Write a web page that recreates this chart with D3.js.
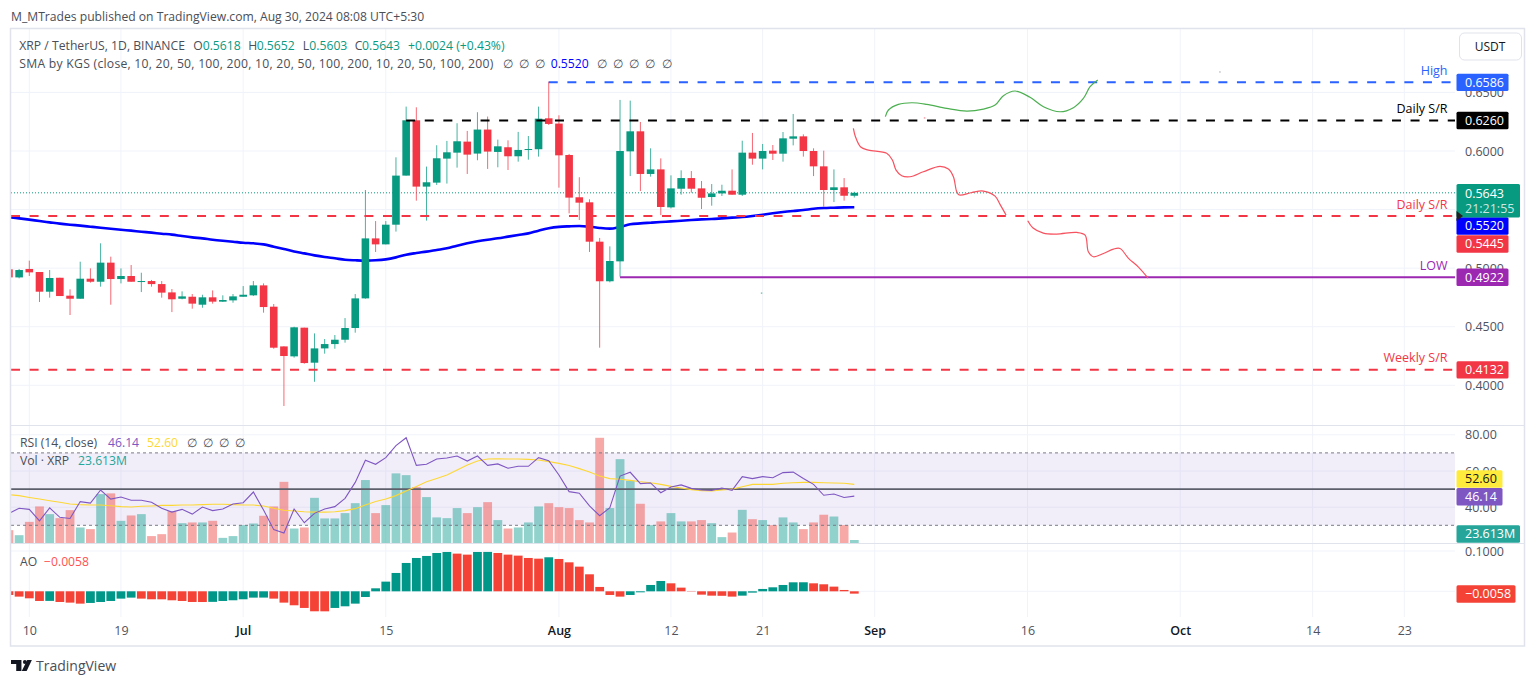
<!DOCTYPE html>
<html>
<head>
<meta charset="utf-8">
<title>XRP / TetherUS</title>
<script src="https://cdn.jsdelivr.net/npm/d3@7/dist/d3.min.js"></script>
<style>
  html, body { margin: 0; padding: 0; background: #fff; overflow: hidden; }
  svg { display: block; }
  text { font-family: 'Open Sans', sans-serif; }
  .axis path, .axis line { display: none; }
  .axis text { font-family: 'Open Sans', sans-serif; font-size: 12.5px; fill: #50535e; }
</style>
</head>
<body>
<div id="chart"></div>
<script>
// daily bars start on 8 Jun 2024, last one is 30 Aug 2024
let opens = [
  .4990, .4921, .4993, .4967, .4799, .4918, .4765, .4739, .4910, .4884, .5047, .4907, .4933, .4882, .4890, .4864, .4793, .4739, .4756, .4688, .4751, .4714, .4725,
  .4756, .4768, .4853, .4671, .4332, .4247, .4492, .4193, .4315, .4352, .4389, .4489, .4742, .5254, .5203, .5371, .5790, .6262, .5696, .5730, .5935, .5986, .6080, .5978, .6183, .5992, .6032, .5955, .6012, .6015, .6279,
  .6234, .5966, .5605, .5562, .5226, .4888, .5058, .5997, .6168, .5804, .5843, .5519, .5678, .5769, .5681, .5607, .5638, .5661, .5627, .5986, .5935, .6003, .5977, .6105, .6125, .6000, .5869, .5667, .5690, .5618
]
let highs = [
  .4990, .4993, .5064, .4967, .4984, .4918, .4819, .5055, .4998, .5212, .5098, .4998, .5027, .4961, .4899, .4890, .4822, .4802, .4779, .4773, .4810, .4768, .4779,
  .4847, .4890, .4870, .4694, .4332, .4500, .4492, .4443, .4395, .4429, .4574, .4779, .5667, .5402, .5402, .5946, .6379, .6373, .5867, .6049, .6086, .6237, .6171, .6331, .6294, .6097, .6091, .6163, .6128, .6379, .6592,
  .6305, .5975, .5776, .5588, .5258, .5186, .6436, .6430, .6248, .6023, .5937, .5792, .5835, .5829, .5744, .5718, .5712, .5843, .6088, .6154, .6060, .6051, .6162, .6316, .6142, .6023, .6003, .5843, .5769, .5652
]
let lows = [
  .4921, .4913, .4933, .4711, .4748, .4762, .4600, .4739, .4876, .4842, .4688, .4870, .4884, .4796, .4842, .4748, .4625, .4734, .4654, .4662, .4697, .4711, .4705,
  .4756, .4762, .4620, .4312, .3823, .4236, .4184, .4030, .4270, .4312, .4364, .4449, .4739, .5138, .5203, .5312, .5790, .5576, .5406, .5710, .5722, .5858, .5804, .5921, .5847, .5861, .5838, .5909, .5926, .5952, .6222,
  .5687, .5468, .5411, .5138, .4321, .4879, .4927, .5786, .5658, .5781, .5453, .5510, .5627, .5644, .5505, .5533, .5616, .5627, .5616, .5883, .5843, .5923, .5909, .6048, .5952, .5786, .5525, .5564, .5576, .5603
]
let closes = [
  .4921, .4984, .4964, .4799, .4916, .4762, .4739, .4910, .4884, .5047, .4907, .4933, .4884, .4890, .4864, .4791, .4734, .4759, .4697, .4751, .4714, .4728, .4759,
  .4773, .4853, .4668, .4321, .4250, .4495, .4190, .4315, .4352, .4389, .4489, .4742, .5254, .5203, .5371, .5790, .6262, .5696, .5733, .5938, .5989, .6083, .5969, .6183, .5995, .6040, .5955, .6009, .6017, .6276, .6231,
  .5963, .5602, .5559, .5226, .4888, .5061, .6000, .6168, .5804, .5843, .5522, .5681, .5769, .5678, .5601, .5638, .5661, .5627, .5986, .5935, .6000, .5977, .6108, .6125, .6000, .5869, .5667, .5690, .5618, .5643
]
let sma200 = [
  .5434, .5425, .5414, .5402, .5391, .5380, .5371, .5363, .5354, .5345, .5337, .5328, .5320, .5311, .5303, .5294, .5286, .5274, .5263, .5254, .5243, .5234, .5226,
  .5217, .5212, .5203, .5183, .5163, .5143, .5126, .5109, .5095, .5084, .5072, .5067, .5064, .5067, .5075, .5092, .5115, .5129, .5141, .5155, .5169, .5192, .5212, .5229, .5243, .5255, .5269, .5283, .5297, .5320, .5340,
  .5352, .5357, .5360, .5354, .5343, .5337, .5352, .5374, .5382, .5388, .5394, .5399, .5405, .5411, .5416, .5419, .5425, .5431, .5436, .5445, .5456, .5468, .5479, .5488, .5496, .5507, .5513, .5516, .5519, .5520
]
let volumes = [
  90, 56, 146, 250, 198, 171, 225, 108, 97, 333, 338, 153, 189, 198, 50, 63, 218, 137, 142, 142, 153, 38, 50,
  124, 135, 187, 250, 416, 101, 108, 308, 169, 169, 205, 272, 428, 205, 259, 473, 461, 380, 313, 176, 171, 239, 205, 245, 279, 158, 101, 108, 142, 250, 272,
  245, 239, 158, 142, 713, 239, 569, 423, 268, 124, 149, 205, 149, 149, 158, 137, 43, 74, 227, 164, 158, 124, 176, 142, 97, 142, 194, 182, 124, 23.613
]
let rsiValues = [
  36.6, 39.4, 38.8, 32.5, 39.6, 34.4, 33.8, 43.1, 42.3, 49.5, 44.5, 45.6, 43.8, 43.8, 42.7, 39.4, 37.3, 38.8, 36.2, 40.1, 38.1, 39.0, 41.8,
  42.5, 48.4, 38.4, 27.6, 25.7, 39.0, 31.4, 36.6, 39.0, 40.3, 44.9, 53.7, 65.9, 63.7, 67.4, 74.0, 78.4, 63.1, 63.7, 66.6, 67.2, 68.3, 65.5, 68.3, 63.1, 63.9, 61.5, 62.6, 62.6, 67.4, 65.7,
  57.8, 48.6, 47.7, 40.7, 35.3, 39.7, 57.2, 59.3, 53.0, 53.4, 48.0, 51.2, 52.3, 50.4, 49.5, 49.3, 50.6, 49.3, 56.9, 55.8, 56.9, 56.3, 59.1, 59.4, 55.9, 52.6, 46.6, 47.3, 45.4, 46.14
]
let rsiMa = [
  46.9, 46.4, 45.4, 44.5, 43.6, 42.7, 41.8, 41.4, 41.2, 41.2, 40.8, 40.3, 40.1, 40.5, 40.7, 41.0, 41.0, 41.2, 41.2, 41.4, 41.6, 41.6, 41.4,
  41.2, 41.2, 40.7, 39.4, 38.3, 37.9, 37.5, 37.3, 37.3, 37.5, 38.1, 39.2, 41.2, 43.1, 44.5, 46.4, 49.0, 51.5, 54.1, 55.9, 57.8, 60.5, 63.3, 65.5, 66.6, 66.8, 66.6, 66.6, 66.4, 66.1, 65.2,
  64.2, 63.0, 61.3, 59.4, 57.2, 55.8, 55.4, 54.8, 54.1, 53.5, 52.6, 51.5, 50.6, 49.7, 49.1, 49.0, 49.5, 50.0, 51.3, 52.6, 52.6, 52.6, 53.2, 53.5, 53.7, 53.7, 53.5, 53.4, 53.2, 52.6
]
let aoValues = [
  -.0091, -.0132, -.0174, -.0240, -.0238, -.0265, -.0281, -.0306, -.0289, -.0265, -.0240, -.0182, -.0157, -.0182, -.0198, -.0199, -.0223, -.0240, -.0265, -.0266, -.0262, -.0240, -.0223,
  -.0198, -.0157, -.0156, -.0182, -.0281, -.0347, -.0413, -.0496, -.0497, -.0413, -.0372, -.0306, -.0141, .0074, .0240, .0455, .0703, .0827, .0877, .0951, .0976, .0935, .0910, .0976, .0977, .0951, .0910, .0885, .0827, .0810, .0844,
  .0802, .0719, .0612, .0422, .0108, -.0091, -.0132, -.0091, -.0025, .0157, .0256, .0198, .0091, .0008, -.0083, -.0108, -.0112, -.0132, -.0108, -.0033, .0058, .0099, .0157, .0223, .0224, .0198, .0174, .0116, .0033, -.0058
]

// hand drawn projections: [bar index, price]
let redDrawingA = [[82.91, .6193], [83.11, .6122], [83.63, .6034], [84.38, .6008], [86.18, .5980], [86.74, .5923], [87.10, .5837], [87.65, .5789], [88.47, .5780], [89.78, .5823], [91.42, .5869], [92.24, .5846], [92.73, .5780], [93.06, .5652], [93.32, .5624], [94.53, .5646], [95.67, .5658], [96.82, .5615], [97.31, .5544], [97.90, .5453]]
let redDrawingB = [[100.03, .5404], [100.52, .5345], [101.56, .5299], [102.87, .5291], [104.84, .5305], [105.66, .5282], [105.98, .5140], [106.47, .5097], [107.46, .5125], [108.45, .5163], [109.09, .5168], [109.9, .5086], [110.9, .5009], [111.84, .4915]]
let greenDrawing = [[86.05, .6293], [86.35, .6350], [87.33, .6398], [88.64, .6412], [90.11, .6398], [92.07, .6364], [94.04, .6341], [95.67, .6358], [96.82, .6392], [97.64, .6472], [98.78, .6512], [100.26, .6458], [101.57, .6378], [103.2, .6335], [104.51, .6370], [105.49, .6449], [106.15, .6549], [106.9, .6606]]
// stray brush dots left on the chart
let speckIndex = [89.9, 73.9, 118.9]
let speckPrice = [.6282, .4787, .6675]
let speckColor = ['#f7a9b0', '#7fcbb8', '#c4c7cf']

let priceTicks = [.65, .6, .55, .5, .45, .4]
let priceLabelTicks = [.65, .6, .5, .45, .4] // .55 sits fully under the tags
let rsiTicks = [80, 60, 40]
let aoTicks = [.1, 0]
let aoLabelTicks = [.1] // 0 sits fully under the AO tag
let timeTickIndex = [2, 11, 23, 37, 54, 65, 74, 85, 100, 115, 128, 137]
let timeTickLabels = ['10', '19', 'Jul', '15', 'Aug', '12', '21', 'Sep', '16', 'Oct', '14', '23']
let boldTimeLabels = ['Jul', 'Aug', 'Sep', 'Oct']

let levelNames = ['High', 'Daily S/R', 'Daily S/R', 'LOW', 'Weekly S/R']
let levelPrices = [.6586, .6260, .5445, .4922, .4132]
let levelStarts = [53, 39, 0, 60, 0]
let levelColors = ['#2962ff', '#000000', '#f23645', '#9c27b0', '#f23645']

let upColor = '#089981'
let downColor = '#f23645'

drawChart()
function drawChart () {
  let width = 1536
  let height = 684
  let left = 11
  let right = 1455
  let barWidth = 7.6
  let last = closes.length - 1

  let x = d3.scaleLinear().domain([0, 137]).range([8.93, 1404.3])
  let yPrice = d3.scaleLinear().domain([.4, .6]).range([385.3, 151])
  let yRsi = d3.scaleLinear().domain([40, 60]).range([507.2, 471])
  let yVol = d3.scaleLinear().domain([0, 713]).range([543.5, 437.8])
  let yAo = d3.scaleLinear().domain([0, .1]).range([591.3, 551])

  let svg = d3.select('#chart').append('svg').attr('width', width).attr('height', height)

  function addClip (id, y0, y1) {
    svg.append('clipPath').attr('id', id).append('rect')
      .attr('x', left).attr('y', y0).attr('width', right - left).attr('height', y1 - y0)
  }
  addClip('clipMain', 29, 425)
  addClip('clipRsi', 426, 543.5)
  addClip('clipAo', 544, 617)

  // published line and footer
  svg.append('text').attr('x', 11).attr('y', 21).attr('font-size', 12.15).attr('fill', '#4a4e57')
    .text('M_MTrades published on TradingView.com, Aug 30, 2024 08:08 UTC+5:30')

  let logo = svg.append('g').attr('transform', 'translate(11,660) scale(0.58)').attr('fill', '#131722')
  logo.append('path').attr('d', 'M0 0H18V19H9V7H0Z')
  logo.append('circle').attr('cx', 24).attr('cy', 3.5).attr('r', 3.5)
  logo.append('path').attr('d', 'M28 0H36L27 19H18.5Z')
  svg.append('text').attr('x', 36).attr('y', 671).attr('font-size', 14).attr('fill', '#4a4e57').text('TradingView')

  // grid
  let grid = svg.append('g').attr('stroke', '#f0f3fa').attr('stroke-width', 1)
  timeTickIndex.forEach(i => {
    grid.append('line').attr('x1', x(i)).attr('x2', x(i)).attr('y1', 29).attr('y2', 617)
  })
  function gridRows (ticks, scale) {
    ticks.forEach(t => {
      grid.append('line').attr('x1', left).attr('x2', right).attr('y1', scale(t)).attr('y2', scale(t))
    })
  }
  gridRows(priceTicks, yPrice)
  gridRows(rsiTicks, yRsi)
  gridRows(aoTicks, yAo)

  // main pane
  let main = svg.append('g').attr('clip-path', 'url(#clipMain)')

  main.append('line').attr('x1', left).attr('x2', right)
    .attr('y1', yPrice(closes[last])).attr('y2', yPrice(closes[last]))
    .attr('stroke', upColor).attr('stroke-dasharray', '1,2')

  main.append('path').datum(sma200)
    .attr('fill', 'none').attr('stroke', '#0000ff').attr('stroke-width', 2.6)
    .attr('d', d3.line().x((d, i) => x(i)).y(d => yPrice(d)).curve(d3.curveMonotoneX))

  let candles = main.selectAll('.candle').data(closes).enter().append('g').attr('class', 'candle')
  candles.append('line')
    .attr('x1', (d, i) => x(i)).attr('x2', (d, i) => x(i))
    .attr('y1', (d, i) => yPrice(highs[i])).attr('y2', (d, i) => yPrice(lows[i]))
    .attr('stroke', (d, i) => d >= opens[i] ? upColor : downColor)
    .attr('stroke-opacity', 0.75)
  candles.append('rect')
    .attr('x', (d, i) => x(i) - barWidth / 2)
    .attr('width', barWidth)
    .attr('y', (d, i) => yPrice(Math.max(d, opens[i])))
    .attr('height', (d, i) => Math.max(1, Math.abs(yPrice(d) - yPrice(opens[i]))))
    .attr('fill', (d, i) => d >= opens[i] ? upColor : downColor)

  levelPrices.forEach((price, i) => {
    main.append('line')
      .attr('x1', Math.max(left, x(levelStarts[i]))).attr('x2', right)
      .attr('y1', yPrice(price)).attr('y2', yPrice(price))
      .attr('stroke', levelColors[i]).attr('stroke-width', 2)
      .attr('stroke-dasharray', levelNames[i] === 'LOW' ? null : '9,9.6')
    svg.append('text').attr('x', 1447.5).attr('y', yPrice(price) - 7.5)
      .attr('text-anchor', 'end').attr('font-size', 12.5).attr('fill', levelColors[i])
      .text(levelNames[i])
  })

  let drawingLine = d3.line().x(d => x(d[0])).y(d => yPrice(d[1])).curve(d3.curveCatmullRom)
  main.append('path').datum(redDrawingA).attr('fill', 'none').attr('stroke', '#f7525f').attr('stroke-width', 1.2).attr('d', drawingLine)
  main.append('path').datum(redDrawingB).attr('fill', 'none').attr('stroke', '#f7525f').attr('stroke-width', 1.2).attr('d', drawingLine)
  main.append('path').datum(greenDrawing).attr('fill', 'none').attr('stroke', '#4caf50').attr('stroke-width', 1.2).attr('d', drawingLine)
  main.selectAll('.speck').data(speckIndex).enter().append('circle').attr('class', 'speck')
    .attr('cx', d => x(d)).attr('cy', (d, i) => yPrice(speckPrice[i])).attr('r', 0.9)
    .attr('fill', (d, i) => speckColor[i])

  // rsi + volume pane
  let rsiPane = svg.append('g').attr('clip-path', 'url(#clipRsi)')
  rsiPane.append('rect').attr('x', left).attr('width', right - left)
    .attr('y', yRsi(70)).attr('height', yRsi(30) - yRsi(70))
    .attr('fill', '#7e57c2').attr('fill-opacity', 0.1)
  rsiPane.selectAll('.volBar').data(volumes).enter().append('rect').attr('class', 'volBar')
    .attr('x', (d, i) => x(i) - 4.4).attr('width', 8.8)
    .attr('y', d => yVol(d)).attr('height', d => yVol(0) - yVol(d))
    .attr('fill', (d, i) => closes[i] >= opens[i] ? '#26a69a' : '#ef5350')
    .attr('fill-opacity', 0.5)
  let bandLines = [70, 30]
  bandLines.forEach(v => {
    rsiPane.append('line').attr('x1', left).attr('x2', right).attr('y1', yRsi(v)).attr('y2', yRsi(v))
      .attr('stroke', '#787b86').attr('stroke-dasharray', '3,3')
  })
  rsiPane.append('line').attr('x1', left).attr('x2', right).attr('y1', yRsi(50)).attr('y2', yRsi(50))
    .attr('stroke', '#5d606b').attr('stroke-width', 1.6)
  let rsiLine = d3.line().x((d, i) => x(i)).y(d => yRsi(d))
  rsiPane.append('path').datum(rsiMa).attr('fill', 'none').attr('stroke', '#fdd835').attr('stroke-width', 1.1).attr('d', rsiLine)
  rsiPane.append('path').datum(rsiValues).attr('fill', 'none').attr('stroke', '#7e57c2').attr('stroke-width', 1.1).attr('d', rsiLine)

  // ao pane, bar colour follows the change from the day before
  svg.append('g').attr('clip-path', 'url(#clipAo)')
    .selectAll('rect').data(aoValues).enter().append('rect')
    .attr('x', (d, i) => x(i) - 4.4).attr('width', 8.8)
    .attr('y', d => Math.min(yAo(d), yAo(0)))
    .attr('height', d => Math.abs(yAo(d) - yAo(0)))
    .attr('fill', (d, i) => i > 0 && d >= aoValues[i - 1] ? '#009688' : '#f44336')

  // frame and pane separators
  let frame = svg.append('g').attr('stroke', '#e0e3eb').attr('fill', 'none')
  frame.append('rect').attr('x', 10.5).attr('y', 28.5).attr('width', 1514).attr('height', 617.5).attr('stroke-width', 1.5)
  frame.append('line').attr('x1', 11).attr('x2', 1525).attr('y1', 425.5).attr('y2', 425.5)
  frame.append('line').attr('x1', 11).attr('x2', 1525).attr('y1', 543.5).attr('y2', 543.5)

  // axes
  function addAxis (scale, ticks, format) {
    svg.append('g').attr('class', 'axis').attr('transform', 'translate(1455,0)')
      .call(d3.axisRight(scale).tickValues(ticks).tickSize(0).tickPadding(10).tickFormat(format))
  }
  addAxis(yPrice, priceLabelTicks, d3.format('.4f'))
  addAxis(yRsi, rsiTicks, d3.format('.2f'))
  addAxis(yAo, aoLabelTicks, d3.format('.4f'))

  let timeAxis = svg.append('g').attr('class', 'axis').attr('transform', 'translate(0,617)')
    .call(d3.axisBottom(x).tickValues(timeTickIndex).tickSize(0).tickPadding(9)
      .tickFormat((d, i) => timeTickLabels[i]))
  timeAxis.selectAll('text')
    .attr('font-weight', (d, i) => boldTimeLabels.includes(timeTickLabels[i]) ? 600 : 400)
    .style('fill', (d, i) => boldTimeLabels.includes(timeTickLabels[i]) ? '#131722' : '#50535e')

  // value tags on the axis
  function addTag (y, w, color, textColor, label) {
    svg.append('rect').attr('x', 1456.5).attr('y', y - 8.7).attr('width', w).attr('height', 17.4)
      .attr('rx', 1.5).attr('fill', color)
    svg.append('text').attr('x', 1465).attr('y', y + 4.4).attr('font-size', 12.5).attr('fill', textColor).text(label)
  }
  addTag(yPrice(levelPrices[0]), 52, levelColors[0], '#fff', levelPrices[0].toFixed(4))
  addTag(yPrice(levelPrices[1]), 52, levelColors[1], '#fff', levelPrices[1].toFixed(4))
  addTag(226, 52, '#0000ff', '#fff', sma200[last].toFixed(4))
  addTag(244, 52, levelColors[2], '#fff', levelPrices[2].toFixed(4))
  addTag(yPrice(levelPrices[3]), 52, levelColors[3], '#fff', levelPrices[3].toFixed(4))
  addTag(yPrice(levelPrices[4]), 52, levelColors[4], '#fff', levelPrices[4].toFixed(4))
  addTag(479, 46, '#ffeb3b', '#131722', rsiMa[last].toFixed(2))
  addTag(496.8, 46, '#7e57c2', '#fff', rsiValues[last].toFixed(2))
  addTag(534, 63.5, '#26a69a', '#fff', volumes[last].toFixed(3) + 'M')
  addTag(594, 59, '#f44336', '#fff', '\u2212' + Math.abs(aoValues[last]).toFixed(4))

  svg.append('rect').attr('x', 1456.5).attr('y', 184).attr('width', 63.5).attr('height', 33.5).attr('rx', 1.5).attr('fill', upColor)
  svg.append('text').attr('x', 1465).attr('y', 198).attr('font-size', 12.5).attr('fill', '#fff').text(closes[last].toFixed(4))
  svg.append('text').attr('x', 1465).attr('y', 213).attr('font-size', 12.5).attr('fill', '#fff').attr('fill-opacity', 0.8).text('21:21:55')
  svg.append('path').attr('fill', '#222')
    .attr('d', d3.line()([[1456.5, yPrice(.5445) - 5], [1463, yPrice(.5445)], [1456.5, yPrice(.5445) + 5]]))

  // USDT button
  svg.append('rect').attr('x', 1459.5).attr('y', 33).attr('width', 62).attr('height', 27).attr('rx', 5)
    .attr('fill', '#fff').attr('stroke', '#e0e3eb')
  svg.append('text').attr('x', 1490).attr('y', 50.5).attr('text-anchor', 'middle').attr('font-size', 12).attr('fill', '#131722').text('USDT')

  drawLegends()

  function addLegendText (x0, y0, color, label) {
    return svg.append('text').attr('x', x0).attr('y', y0).attr('font-size', 12.2).attr('fill', color).text(label)
  }

  function drawLegends () {
    let grey = '#4a4e57'
    addLegendText(19.3, 49.5, grey, 'XRP / TetherUS, 1D, BINANCE')
    let ohlcLetters = ['O', 'H', 'L', 'C']
    let ohlcLetterX = [193.3, 248.3, 302.7, 354.7]
    let ohlcValueX = [202.7, 256.7, 309.3, 362]
    let ohlcLast = [opens[last], highs[last], lows[last], closes[last]]
    ohlcLetters.forEach((letter, i) => {
      addLegendText(ohlcLetterX[i], 49.5, grey, letter)
      addLegendText(ohlcValueX[i], 49.5, upColor, ohlcLast[i].toFixed(4))
    })
    addLegendText(408, 49.5, upColor, '+0.0024 (+0.43%)')

    addLegendText(19.3, 67.5, grey, 'SMA by KGS (close, 10, 20, 50, 100, 200, 10, 20, 50, 100, 200, 10, 20, 50, 100, 200)')
      .attr('textLength', 474).attr('lengthAdjust', 'spacing')
    let emptyX = [502.7, 518.7, 535, 596.7, 613, 629, 645, 661.7]
    emptyX.forEach(x0 => addLegendText(x0, 67.5, grey, '\u2205'))
    addLegendText(550.7, 67.5, '#0000ff', sma200[last].toFixed(4))

    addLegendText(20, 447, grey, 'RSI (14, close)')
    addLegendText(108, 447, '#7e57c2', rsiValues[last].toFixed(2))
    addLegendText(147, 447, '#fdd835', rsiMa[last].toFixed(2))
    let rsiEmptyX = [187, 203, 219, 235]
    rsiEmptyX.forEach(x0 => addLegendText(x0, 447, grey, '\u2205'))

    addLegendText(20, 465, grey, 'Vol \u00b7 XRP')
    addLegendText(78, 465, '#26a69a', volumes[last].toFixed(3) + 'M')

    addLegendText(20, 566, grey, 'AO')
    addLegendText(44, 566, '#ff5252', '\u2212' + Math.abs(aoValues[last]).toFixed(4))
  }
}
</script>
</body>
</html>
